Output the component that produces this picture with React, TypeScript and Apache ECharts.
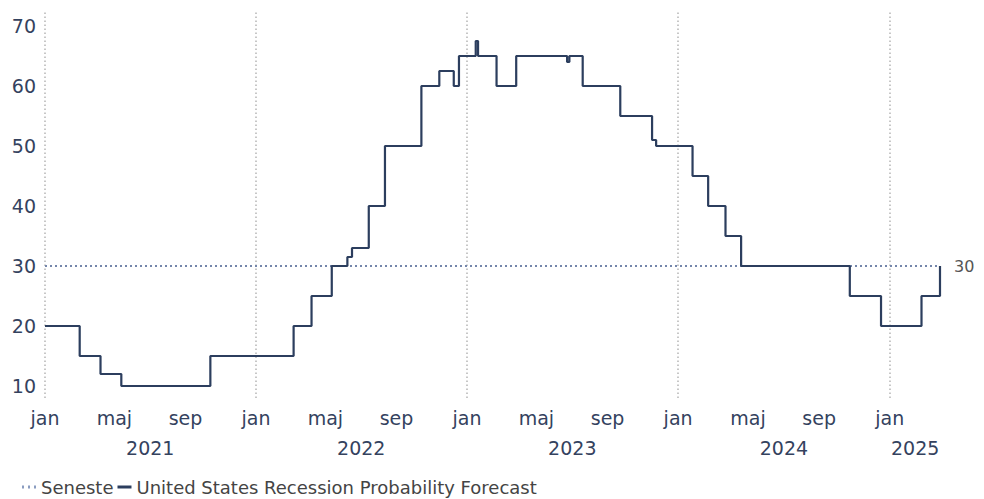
import React, { useEffect, useRef } from "react";
import * as echarts from "echarts";

// Change points of the forecast: [date, probability %]
const forecastDates: string[] = [
  "2021-01-01", "2021-03-02", "2021-04-07", "2021-05-13", "2021-10-14",
  "2022-03-07", "2022-04-07", "2022-05-12", "2022-06-08", "2022-06-16",
  "2022-07-15", "2022-08-12", "2022-10-14", "2022-11-14", "2022-12-09",
  "2022-12-18", "2023-01-16", "2023-01-20", "2023-02-21", "2023-03-27",
  "2023-06-23", "2023-06-27", "2023-07-20", "2023-09-23", "2023-11-17",
  "2023-11-24", "2024-01-26", "2024-02-22", "2024-03-23", "2024-04-19",
  "2024-10-24", "2024-12-17", "2025-02-25", "2025-03-29",
];
const forecastValues: number[] = [
  20, 15, 12, 10, 15,
  20, 25, 30, 31.5, 33,
  40, 50, 60, 62.5, 60,
  65, 67.5, 65, 60, 65,
  64, 65, 60, 55, 51,
  50, 45, 40, 35, 30,
  25, 20, 25, 30,
];
const latestValue = 30;
const startDate = "2021-01-01";
const endDate = "2025-03-29";

const yTicks: number[] = [10, 20, 30, 40, 50, 60, 70];
const monthNames: string[] = ["jan", "feb", "mar", "apr", "maj", "jun", "jul", "aug", "sep", "okt", "nov", "dec"];
const monthTickDates: string[] = [
  "2021-01-01", "2021-05-01", "2021-09-01",
  "2022-01-01", "2022-05-01", "2022-09-01",
  "2023-01-01", "2023-05-01", "2023-09-01",
  "2024-01-01", "2024-05-01", "2024-09-01",
  "2025-01-01",
];
const yearGridDates: string[] = ["2021-01-01", "2022-01-01", "2023-01-01", "2024-01-01", "2025-01-01"];
const yearLabelDates: string[] = ["2021-07-02", "2022-07-02", "2023-07-02", "2024-07-02", "2025-02-14"];

const toTs = (s: string) => {
  const [y, m, d] = s.split("-").map(Number);
  return new Date(y, m - 1, d).getTime();
};

export default function App() {
  const ref = useRef<HTMLDivElement>(null);
  useEffect(() => {
    if (!ref.current) return;
    const chart = echarts.init(ref.current, null, { renderer: "svg" });
    const font = "DejaVu Sans";
    const labelColor = "#34425e";
    const minTs = toTs(startDate);
    const maxTs = toTs(endDate);
    chart.setOption({
      animation: false,
      grid: { left: 45, right: 44, top: 11, bottom: 101, containLabel: false },
      legend: {
        left: 17,
        top: 473,
        itemWidth: 14,
        itemHeight: 3,
        itemGap: 4,
        textStyle: { fontFamily: font, fontSize: 18, color: "#444" },
        data: [
          { name: "Seneste", icon: "path://M0,0h2v3h-2z M6,0h2v3h-2z M12,0h2v3h-2z" },
          { name: "United States Recession Probability Forecast", icon: "path://M0,0h14v3h-14z" },
        ],
      },
      xAxis: [
        {
          type: "value",
          min: minTs,
          max: maxTs,
          axisLine: { show: false },
          axisTick: { show: false },
          splitLine: { show: false },
          axisLabel: {
            customValues: monthTickDates.map(toTs),
            formatter: (v: number) => monthNames[new Date(v).getMonth()],
            fontFamily: font,
            fontSize: 19,
            color: labelColor,
            margin: 10,
            hideOverlap: false,
          },
        },
        {
          type: "value",
          min: minTs,
          max: maxTs,
          position: "bottom",
          offset: 30,
          axisLine: { show: false },
          axisTick: { show: false },
          splitLine: { show: false },
          axisLabel: {
            customValues: yearLabelDates.map(toTs),
            formatter: (v: number) => String(new Date(v).getFullYear()),
            fontFamily: font,
            fontSize: 19,
            color: labelColor,
            margin: 10,
            hideOverlap: false,
          },
        },
      ],
      yAxis: {
        type: "value",
        min: 8,
        max: 72.5,
        axisLine: { show: false },
        axisTick: { show: false },
        splitLine: { show: false },
        axisLabel: {
          customValues: yTicks,
          fontFamily: font,
          fontSize: 19,
          color: labelColor,
          margin: 9,
        },
      },
      series: [
        {
          name: "Seneste",
          type: "line",
          symbol: "none",
          data: [[minTs, latestValue], [maxTs, latestValue]],
          lineStyle: { color: "#7486ab", width: 2, type: [2, 3] },
          itemStyle: { color: "#8a9cc0" },
          endLabel: {
            show: true,
            formatter: () => String(latestValue),
            fontFamily: font,
            fontSize: 16,
            color: "#555",
            distance: 14,
          },
          z: 2,
        },
        {
          name: "United States Recession Probability Forecast",
          type: "line",
          step: "end",
          symbol: "none",
          data: forecastDates.map((d, i) => [toTs(d), forecastValues[i]]),
          lineStyle: { color: "#2c3e5e", width: 2.2 },
          itemStyle: { color: "#2c3e5e" },
          z: 3,
          markLine: {
            silent: true,
            symbol: "none",
            label: { show: false },
            lineStyle: { color: "#b5b5b5", width: 1.5, type: [1.5, 2.5] },
            data: yearGridDates.map((d) => ({ xAxis: toTs(d) })),
            z: 1,
          },
        },
      ],
    });
    return () => chart.dispose();
  }, []);
  return <div ref={ref} style={{ width: 984, height: 499, position: "absolute", left: 0, top: 0 }} />;
}
